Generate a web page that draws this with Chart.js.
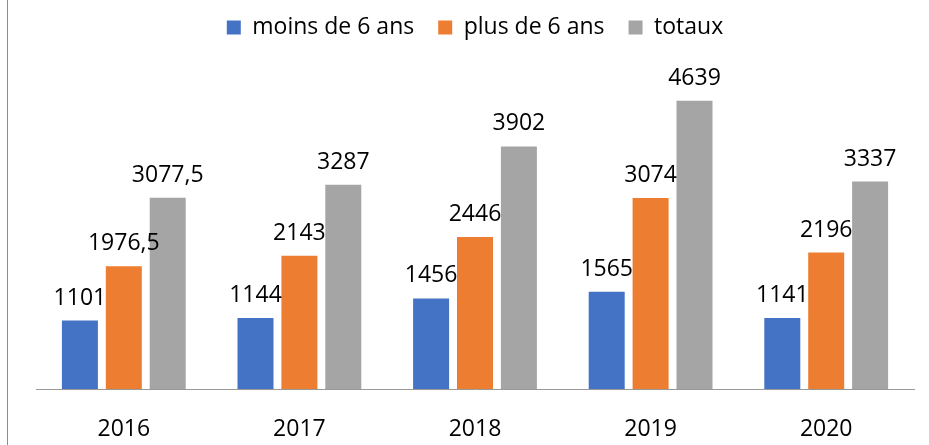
<!DOCTYPE html>
<html>
<head>
<meta charset="utf-8">
<script src="https://cdn.jsdelivr.net/npm/chart.js@4/dist/chart.umd.min.js"></script>
<style>
  html, body { margin: 0; padding: 0; background: #fff; }
  #wrap { width: 929px; height: 445px; position: relative; }
</style>
</head>
<body>
<div id="wrap"><canvas id="wykres"></canvas></div>
<script>
const annees = ['2016', '2017', '2018', '2019', '2020'];
const moinsDe6 = [1101, 1144, 1456, 1565, 1141];
const plusDe6 = [1976.5, 2143, 2446, 3074, 2196];
const totaux = [3077.5, 3287, 3902, 4639, 3337];

const police = "'Open Sans', 'Noto Sans', sans-serif";

// valeurs au-dessus des barres, virgule décimale
const etiquettes = {
  id: 'etiquettes',
  afterDatasetsDraw(chart) {
    const ctx = chart.ctx;
    ctx.save();
    ctx.font = `23px ${police}`;
    ctx.fillStyle = '#000';
    ctx.textAlign = 'center';
    ctx.textBaseline = 'alphabetic';
    chart.data.datasets.forEach((ds, i) => {
      chart.getDatasetMeta(i).data.forEach((bar, j) => {
        const txt = String(ds.data[j]).replace('.', ',');
        ctx.fillText(txt, bar.x, bar.y - 16);
      });
    });
    ctx.restore();
  }
};

// trait vertical à gauche
const bordure = {
  id: 'bordure',
  beforeDraw(chart) {
    const ctx = chart.ctx;
    ctx.save();
    ctx.strokeStyle = '#8c8c8c';
    ctx.lineWidth = 1;
    ctx.beginPath();
    ctx.moveTo(7.5, 0);
    ctx.lineTo(7.5, chart.height);
    ctx.stroke();
    ctx.restore();
  }
};

const ctx = document.getElementById('wykres').getContext('2d');
new Chart(ctx, {
  type: 'bar',
  data: {
    labels: annees,
    datasets: [
      { label: 'moins de 6 ans', data: moinsDe6, backgroundColor: '#4472C4' },
      { label: 'plus de 6 ans', data: plusDe6, backgroundColor: '#ED7D31' },
      { label: 'totaux', data: totaux, backgroundColor: '#A5A5A5' }
    ]
  },
  options: {
    responsive: true,
    maintainAspectRatio: false,
    animation: false,
    layout: { padding: { left: 36, right: 15, top: -8, bottom: 0 } },
    datasets: {
      bar: { categoryPercentage: 0.75, barPercentage: 0.82 }
    },
    plugins: {
      legend: {
        position: 'top',
        labels: {
          boxWidth: 14,
          boxHeight: 14,
          padding: 24,
          color: '#000',
          font: { family: police, size: 23 }
        }
      },
      tooltip: { enabled: false }
    },
    scales: {
      x: {
        grid: { display: false, drawTicks: false },
        border: { color: '#999', width: 1 },
        ticks: { color: '#000', padding: 27, font: { family: police, size: 23 } },
        afterFit(scale) { scale.height = 56; }
      },
      y: {
        display: false,
        min: 0,
        max: 5470
      }
    }
  },
  plugins: [etiquettes, bordure]
});
</script>
</body>
</html>
